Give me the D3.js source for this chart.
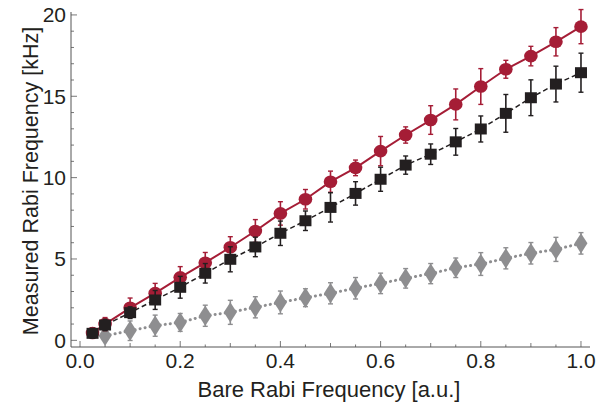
<!DOCTYPE html>
<html><head><meta charset="utf-8">
<script src="https://cdn.jsdelivr.net/npm/d3@7"></script>
<style>body{margin:0;background:#fff}svg{display:block}</style>
</head><body>
<svg id="c" width="609" height="407"></svg>
<script>
const xRed = [0.025,0.05,0.1,0.15,0.2,0.25,0.3,0.35,0.4,0.45,0.5,0.55,0.6,0.65,0.7,0.75,0.8,0.85,0.9,0.95,1.0];
const yRed = [0.45,1.0,2.0,2.9,3.87,4.77,5.72,6.72,7.8,8.67,9.75,10.6,11.63,12.62,13.54,14.5,15.6,16.66,17.47,18.35,19.28];
const eRed = [0.3,0.4,0.6,0.6,0.66,0.63,0.65,0.7,0.72,0.6,0.65,0.48,0.9,0.5,0.88,0.95,1.1,0.55,0.6,0.87,1.05];
const xBlack = [0.025,0.05,0.1,0.15,0.2,0.25,0.3,0.35,0.4,0.45,0.5,0.55,0.6,0.65,0.7,0.75,0.8,0.85,0.9,0.95,1.0];
const yBlack = [0.43,0.94,1.7,2.48,3.26,4.12,4.98,5.74,6.58,7.35,8.17,9.03,9.9,10.77,11.44,12.2,12.99,13.95,14.91,15.75,16.45];
const eBlack = [0.3,0.35,0.36,0.58,0.67,0.6,0.77,0.6,0.75,0.6,0.9,0.72,0.74,0.56,0.63,0.82,0.8,1.16,1.1,1.1,1.2];
const xGray = [0.05,0.1,0.15,0.2,0.25,0.3,0.35,0.4,0.45,0.5,0.55,0.6,0.65,0.7,0.75,0.8,0.85,0.9,0.95,1.0];
const yGray = [0.28,0.59,0.9,1.1,1.51,1.72,2.03,2.33,2.62,2.89,3.2,3.5,3.81,4.1,4.46,4.69,5.04,5.35,5.59,5.96];
const eGray = [0.2,0.6,0.65,0.55,0.65,0.74,0.65,0.7,0.55,0.65,0.66,0.63,0.6,0.62,0.6,0.7,0.65,0.66,0.74,0.66];
const xTicks = [0.0,0.2,0.4,0.6,0.8,1.0];
const xTickLabels = ["0.0","0.2","0.4","0.6","0.8","1.0"];
const yTicks = [0,5,10,15,20];
const yTickLabels = ["0","5","10","15","20"];

const svg = d3.select("#c");
const x = d3.scaleLinear().domain([-0.018, 1.018]).range([71, 590]);
const y = d3.scaleLinear().domain([-0.41, 20.18]).range([347, 12]);
const font = "'Liberation Sans', Arial, sans-serif";
const axisCol = "#555";
const txtCol = "#231f20";

// axes lines
svg.append("line").attr("x1",71).attr("x2",590).attr("y1",347).attr("y2",347).attr("stroke",axisCol).attr("stroke-width",1);
svg.append("line").attr("x1",71).attr("x2",71).attr("y1",12).attr("y2",347).attr("stroke",axisCol).attr("stroke-width",1);

// x ticks
d3.range(0, 1.0001, 0.05).forEach(v => {
  const isMajor = Math.abs(v*5 - Math.round(v*5)) < 1e-6;
  const isMid = !isMajor && Math.abs(v*10 - Math.round(v*10)) < 1e-6;
  const len = isMajor ? 6 : (isMid ? 4 : 2.5);
  svg.append("line").attr("x1",x(v)).attr("x2",x(v)).attr("y1",347).attr("y2",347-len).attr("stroke",axisCol).attr("stroke-width",0.8);
});
xTicks.forEach((v,i) => {
  svg.append("text").attr("x",x(v)).attr("y",368).attr("text-anchor","middle")
    .attr("font-family",font).attr("font-size",21).attr("fill",txtCol).text(xTickLabels[i]);
});
// y ticks
d3.range(0, 20.001, 1).forEach(v => {
  const isMajor = v % 5 === 0;
  const len = isMajor ? 6 : 3;
  svg.append("line").attr("x1",71).attr("x2",71+len).attr("y1",y(v)).attr("y2",y(v)).attr("stroke",axisCol).attr("stroke-width",0.8);
});
yTicks.forEach((v,i) => {
  svg.append("text").attr("x",66).attr("y",y(v)+7.5).attr("text-anchor","end")
    .attr("font-family",font).attr("font-size",21).attr("fill",txtCol).text(yTickLabels[i]);
});

// axis titles
svg.append("text").attr("x",329).attr("y",397).attr("text-anchor","middle")
  .attr("font-family",font).attr("font-size",22).attr("fill",txtCol).text("Bare Rabi Frequency [a.u.]");
svg.append("text").attr("transform","translate(38,181) rotate(-90)").attr("text-anchor","middle")
  .attr("font-family",font).attr("font-size",21.5).attr("fill",txtCol).text("Measured Rabi Frequency [kHz]");

function series(xs, ys, es, color, dash, cap, lw) {
  const g = svg.append("g");
  const line = d3.line().x((d,i)=>x(xs[i])).y(d=>y(d));
  g.append("path").attr("d", line(ys)).attr("fill","none").attr("stroke",color)
    .attr("stroke-width",lw).attr("stroke-dasharray",dash).attr("stroke-linecap", cap);
  xs.forEach((xv,i)=>{
    const cx = x(xv), y1 = y(ys[i]+es[i]), y2 = y(ys[i]-es[i]);
    g.append("line").attr("x1",cx).attr("x2",cx).attr("y1",y1).attr("y2",y2).attr("stroke",color).attr("stroke-width",1.6);
    g.append("line").attr("x1",cx-2.5).attr("x2",cx+2.5).attr("y1",y1).attr("y2",y1).attr("stroke",color).attr("stroke-width",1.4);
    g.append("line").attr("x1",cx-2.5).attr("x2",cx+2.5).attr("y1",y2).attr("y2",y2).attr("stroke",color).attr("stroke-width",1.4);
  });
  return g;
}

const gray = "#8e8e90", black = "#231f20", red = "#a51d36";
const gG = series(xGray, yGray, eGray, gray, "0.1 5", "round", 3);
gG.selectAll(null).data(yGray).enter().append("path")
  .attr("d", d3.symbol(d3.symbolDiamond, 120)())
  .attr("transform",(d,i)=>`translate(${x(xGray[i])},${y(d)}) scale(1.1,1)`)
  .attr("fill",gray);
const gR = series(xRed, yRed, eRed, red, null, "butt", 2);
gR.selectAll(null).data(yRed).enter().append("ellipse")
  .attr("cx",(d,i)=>x(xRed[i])).attr("cy",d=>y(d)).attr("rx",6.8).attr("ry",6.3).attr("fill",red);
const gB = series(xBlack, yBlack, eBlack, black, "5 3", "butt", 1.5);
gB.selectAll(null).data(yBlack).enter().append("rect")
  .attr("x",(d,i)=>x(xBlack[i])-6).attr("y",d=>y(d)-5.5).attr("width",12).attr("height",11).attr("fill",black);
</script>
</body></html>
